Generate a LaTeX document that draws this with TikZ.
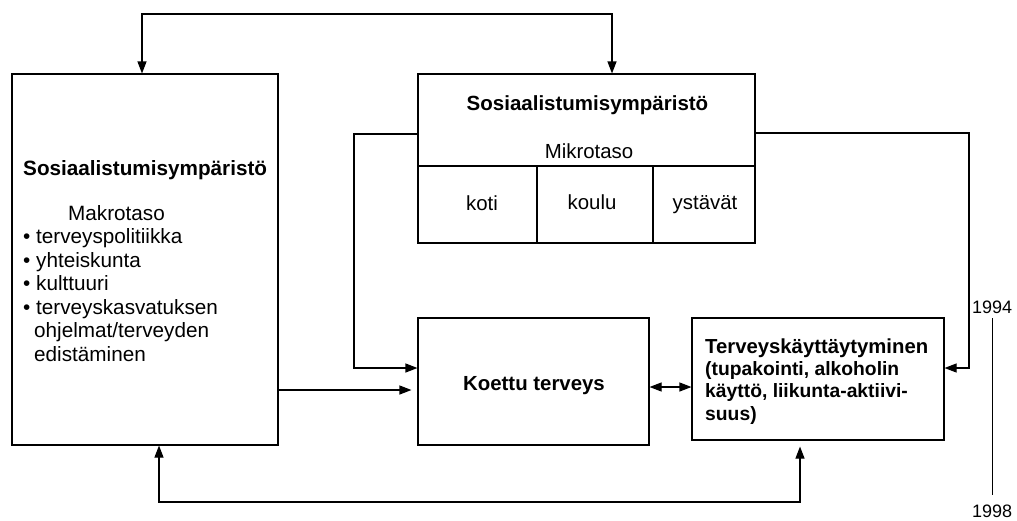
\documentclass[tikz,border=0pt]{standalone}
\usepackage{fontspec}
\setmainfont{Liberation Sans}
\usetikzlibrary{arrows.meta}
\begin{document}
\begin{tikzpicture}[x=1pt,y=-1pt,
  box/.style={draw, line width=1.1pt, inner sep=0pt},
  conn/.style={line width=1.1pt},
  tip/.style={-{Triangle[length=12pt,width=9pt]}},
  both/.style={{Triangle[length=12pt,width=9pt]}-{Triangle[length=12pt,width=9pt]}},
  lbl/.style={inner sep=0pt, anchor=base west, font=\fontsize{20.7}{24}\selectfont},
  mid/.style={inner sep=0pt, anchor=base, font=\fontsize{20.4}{24}\selectfont},
  tv/.style={inner sep=0pt, anchor=base west, font=\bfseries\fontsize{19.3}{22}\selectfont},
  yr/.style={inner sep=0pt, anchor=base west, font=\fontsize{18}{20}\selectfont}]
\useasboundingbox (0,0) rectangle (1017,520);

% boxes
\node[box, minimum width=266pt, minimum height=371pt] (macro) at (145,259.5) {};
\node[box, minimum width=337pt, minimum height=169pt] (micro) at (586.5,158.5) {};
\node[box, minimum width=119pt, minimum height=77pt] (koti) at (477.5,204.5) {};
\node[box, minimum width=116pt, minimum height=77pt] (koulu) at (595,204.5) {};
\node[box, minimum width=102pt, minimum height=77pt] (ystavat) at (704,204.5) {};
\node[box, minimum width=231pt, minimum height=127pt] (koettu) at (533.5,381.5) {};
\node[box, minimum width=252pt, minimum height=122pt] (terv) at (818,379) {};

% macro texts
\node[lbl, font=\bfseries\fontsize{20.7}{24}\selectfont] (mtitle) at (23,175) {Sosiaalistumisympäristö};
\node[lbl] (makro) at (68,220) {Makrotaso};
\node[lbl] (b1) at (23,243) {• terveyspolitiikka};
\node[lbl] (b2) at (23,267) {• yhteiskunta};
\node[lbl] (b3) at (23,290) {• kulttuuri};
\node[lbl] (b4) at (23,314) {• terveyskasvatuksen};
\node[lbl] (b4b) at (34,337) {ohjelmat/terveyden};
\node[lbl] (b4c) at (34,361) {edistäminen};

% micro texts
\node[mid, font=\bfseries\fontsize{20.5}{24}\selectfont] (utitle) at (587.5,110) {Sosiaalistumisympäristö};
\node[mid] (mikro) at (589,158) {Mikrotaso};
\node[mid] (tkoti) at (482,210) {koti};
\node[mid] (tkoulu) at (592,209) {koulu};
\node[mid] (tyst) at (705,209) {ystävät};

% koettu
\node[inner sep=0pt, anchor=base, font=\bfseries\fontsize{20.4}{24}\selectfont] (tkoettu) at (534,390) {Koettu terveys};

% terveyskayttaytyminen
\node[tv, font=\bfseries\fontsize{20.3}{24}\selectfont] (tv1) at (705,353) {Terveyskäyttäytyminen};
\node[tv] (tv2) at (705,375) {(tupakointi, alkoholin};
\node[tv] (tv3) at (705,397) {käyttö, liikunta-aktiivi-};
\node[tv] (tv4) at (705,420) {suus)};

% years
\node[yr] (y94) at (972,313) {1994};
\node[yr] (y98) at (972,517) {1998};
\draw[conn] ([yshift=-5pt]y94.south) -- ([yshift=9pt]y98.north);

% connectors
\coordinate (xa) at (142,14);
\coordinate (xb) at (612,14);
\draw[conn, both] (macro.north -| xa) -- (xa) -- (xb) -- (micro.north -| xb);

\coordinate (lc) at (354,134);
\coordinate (lc2) at (354,368);
\draw[conn, tip] (micro.west |- lc) -- (lc) -- (lc2) -- (koettu.west |- lc2);

\coordinate (rc) at (969,133);
\coordinate (rc2) at (969,368);
\draw[conn, tip] (micro.east |- rc) -- (rc) -- (rc2) -- (terv.east |- rc2);

\coordinate (mk) at (278,390);
\draw[conn, tip, shorten >=6pt] (macro.east |- mk) -- (koettu.west |- mk);

\coordinate (kt) at (670,387);
\draw[conn, both] (koettu.east |- kt) -- (terv.west |- kt);

\coordinate (bl) at (159,502);
\coordinate (br) at (800,502);
\draw[conn, both, shorten >=6pt] (macro.south -| bl) -- (bl) -- (br) -- (terv.south -| br);
\end{tikzpicture}
\end{document}
